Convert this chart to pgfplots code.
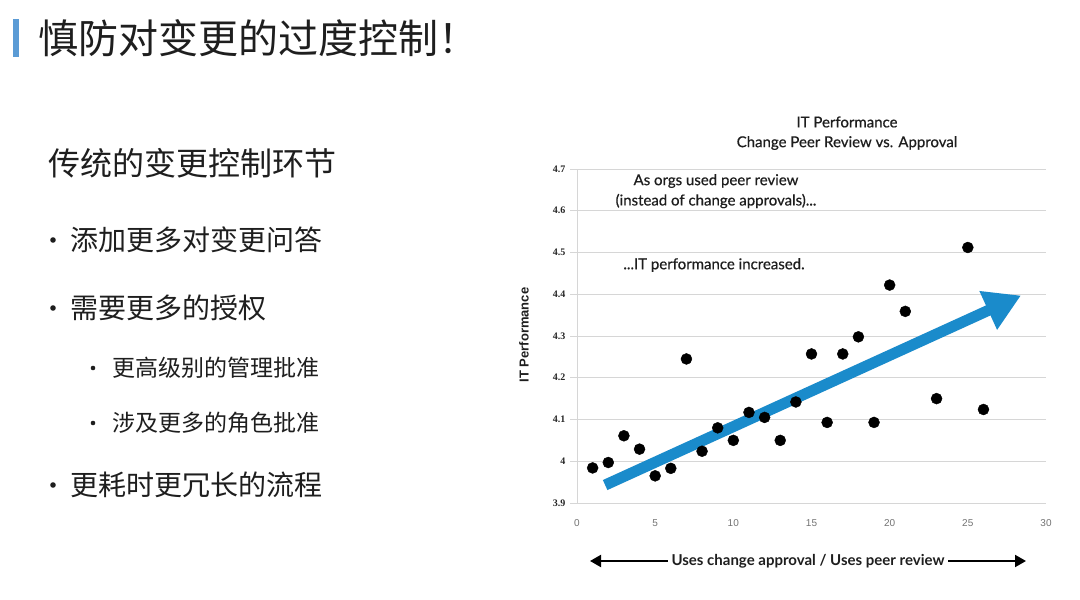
\documentclass[border=0pt]{standalone}
\usepackage{fontspec}
\usepackage{pgfplots}
\pgfplotsset{compat=1.18}
\usetikzlibrary{arrows.meta}
\setmainfont{Lato}
\newfontfamily\medfont{Lato}[FakeBold=0.5]
\newfontfamily\cjk{Noto Sans CJK SC}
\newfontfamily\tickfont{Liberation Serif}
\newfontfamily\labfont{Liberation Sans}
\definecolor{arrowblue}{HTML}{1A8BCB}
\definecolor{barblue}{HTML}{5B9BD5}
\definecolor{txt}{HTML}{1E1E1E}
\definecolor{gridgray}{HTML}{D6D6D6}

\pgfplotstableread{
x y
1 3.984
2 3.997
3 4.061
4 4.029
5 3.965
6 3.983
7 4.245
8 4.024
9 4.080
10 4.050
11 4.117
12 4.105
13 4.050
14 4.142
15 4.257
16 4.093
17 4.257
18 4.298
19 4.093
20 4.422
21 4.359
23 4.150
25 4.512
26 4.124
}\perf

\begin{document}
\begin{tikzpicture}[x=1pt,y=1pt]
\path[use as bounding box, fill=white] (0,0) rectangle (1080,600);

% slide heading
\fill[barblue] (13,543) rectangle (19,581);
\node[anchor=west, inner sep=0, text=txt, font=\cjk\fontsize{40}{44}\selectfont] at (38,562) {慎防对变更的过度控制！};

% bullets
\node[anchor=west, inner sep=0, text=txt, font=\cjk\fontsize{32}{36}\selectfont] at (48,437) {传统的变更控制环节};
\fill[txt] (53,360) circle (2.8);
\node[anchor=west, inner sep=0, text=txt, font=\cjk\fontsize{28}{32}\selectfont] at (70,360) {添加更多对变更问答};
\fill[txt] (53,292) circle (2.8);
\node[anchor=west, inner sep=0, text=txt, font=\cjk\fontsize{28}{32}\selectfont] at (70,292) {需要更多的授权};
\fill[txt] (93,232) circle (2.3);
\node[anchor=west, inner sep=0, text=txt, font=\cjk\fontsize{23}{27}\selectfont] at (112,232) {更高级别的管理批准};
\fill[txt] (93,177) circle (2.3);
\node[anchor=west, inner sep=0, text=txt, font=\cjk\fontsize{23}{27}\selectfont] at (112,177) {涉及更多的角色批准};
\fill[txt] (53,115) circle (2.8);
\node[anchor=west, inner sep=0, text=txt, font=\cjk\fontsize{28}{32}\selectfont] at (70,115) {更耗时更冗长的流程};

% chart
\begin{axis}[
    at={(577pt,97pt)}, anchor=south west,
    scale only axis, width=469pt, height=334pt,
    xmin=0, xmax=30, ymin=3.9, ymax=4.7,
    xtick={0,5,...,30},
    ytick={3.9,4,4.1,4.2,4.3,4.4,4.5,4.6,4.7},
    axis x line=none,
    axis y line*=left,
    axis line style={gridgray, line width=0.8pt, -},
    ymajorgrids,
    grid style={gridgray, line width=0.8pt},
    major tick length=7pt,
    tick align=outside,
    ytick style={gridgray, line width=0.8pt},
    xtick style={draw=none},
    /pgf/number format/assume math mode=true,
    yticklabel style={font=\tickfont\bfseries\fontsize{10}{11}\selectfont, text=black!85, xshift=-1pt},
    clip=false,
]
\addplot[only marks, mark=*, mark size=5.5pt, black] table {\perf};
\addplot[arrowblue, line width=11pt, -{Triangle[length=36pt, width=40pt]}] coordinates {(1.8,3.943) (28.4,4.397)};
\end{axis}
% x tick labels (axis x line is hidden, so set them here at the tick values)
\foreach \v/\px in {0/577,5/655.2,10/733.3,15/811.5,20/889.7,25/967.8,30/1046}
  \node[font=\labfont\fontsize{10}{12}\selectfont, text=black!55] at (\px,77) {\v};

% chart titles and notes
\node[font=\medfont\fontsize{15}{17}\selectfont, text=txt] at (847,478) {IT Performance};
\node[font=\medfont\fontsize{15}{17}\selectfont, text=txt] at (847,457) {Change Peer Review vs. Approval};
\node[font=\medfont\fontsize{15}{17}\selectfont, text=txt] at (716,419) {As orgs used peer review};
\node[font=\medfont\fontsize{15}{17}\selectfont, text=txt] at (716,399) {(instead of change approvals)...};
\node[font=\medfont\fontsize{15}{17}\selectfont, text=txt] at (714,335) {...IT performance increased.};
\node[rotate=90, font=\labfont\bfseries\fontsize{13}{15}\selectfont, text=txt] at (524,265) {IT Performance};

% bottom direction arrow
\draw[line width=2pt, {Triangle[length=11pt,width=12pt]}-{Triangle[length=11pt,width=12pt]}] (590,39) -- (1026,39);
\node[fill=white, inner xsep=4pt, font=\bfseries\fontsize{15}{17}\selectfont, text=txt] at (808,39) {Uses change approval / Uses peer review};
\end{tikzpicture}
\end{document}
